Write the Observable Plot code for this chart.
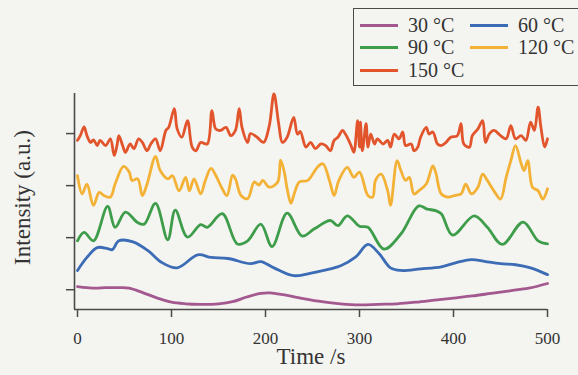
<!DOCTYPE html>
<html>
<head>
<meta charset="utf-8">
<script src="https://cdn.jsdelivr.net/npm/d3@7"></script>
<script src="https://cdn.jsdelivr.net/npm/@observablehq/plot@0.6"></script>
<style>
  html, body { margin: 0; padding: 0; background: #f4f4f0; }
  #wrap { position: relative; width: 578px; height: 375px; overflow: hidden; font-family: "Liberation Serif", "DejaVu Serif", serif; color: #333; }
  #legend { position: absolute; left: 353px; top: 8px; width: 232px; height: 78px; border: 1.6px solid #4a4a4a; box-sizing: border-box;
            display: grid; grid-template-columns: 110px auto; grid-auto-rows: 22.5px; padding: 5px 0 0 6px; font-size: 20px; }
  .item { display: flex; align-items: center; white-space: nowrap; }
  .sw { width: 38px; height: 3px; margin-right: 10px; }
</style>
</head>
<body>
<div id="wrap"><div id="legend"></div></div>
<script>
// Series labels and colours
const labels = ["30 °C", "60 °C", "90 °C", "120 °C", "150 °C"];
const colors = ["#a3598f", "#3b6cb5", "#3e9d4a", "#f3b236", "#e2542c"];

// Axis ticks
const xTicks = [0, 100, 200, 300, 400, 500];
const yTicks = [1, 2, 3, 4];

// Intensity traces, [time (s), intensity (a.u., offset per temperature)]
const s30 = [[0,1.06],[10,1.04],[20,1.03],[30,1.04],[45,1.04],[55,1.03],[70,0.94],[85,0.84],[100,0.76],[115,0.73],[130,0.72],[150,0.73],[165,0.77],[180,0.86],[195,0.93],[205,0.94],[220,0.90],[240,0.83],[260,0.77],[280,0.73],[300,0.71],[320,0.72],[340,0.73],[360,0.76],[380,0.80],[400,0.84],[420,0.88],[440,0.93],[460,0.98],[480,1.03],[500,1.12]];

const s60 = [[0,1.37],[10,1.62],[21,1.81],[32,1.79],[37,1.77],[44,1.94],[59,1.92],[75,1.75],[90,1.52],[106,1.42],[128,1.67],[142,1.62],[160,1.60],[184,1.50],[195,1.54],[209,1.42],[230,1.27],[251,1.33],[280,1.46],[296,1.63],[309,1.87],[321,1.69],[333,1.42],[344,1.37],[365,1.40],[387,1.44],[403,1.52],[419,1.58],[434,1.54],[450,1.50],[466,1.48],[482,1.42],[500,1.29]];

const s90 = [[0,1.94],[7,2.10],[17,1.94],[32,2.60],[40,2.20],[51,2.49],[64,2.29],[71,2.26],[83,2.66],[96,1.96],[104,2.53],[117,2.01],[131,2.25],[138,2.20],[154,2.46],[170,1.88],[181,1.94],[195,2.26],[207,1.83],[223,2.47],[239,2.03],[252,2.17],[269,2.33],[277,2.23],[287,2.42],[300,2.22],[309,2.20],[326,1.78],[344,2.07],[363,2.61],[372,2.55],[381,2.52],[387,2.46],[399,2.05],[422,2.42],[436,2.20],[452,1.87],[474,2.30],[490,1.94],[500,1.88]];

const s120 = [[0,3.19],[5,2.84],[10,3.03],[17,2.62],[23,2.87],[28,2.81],[35,2.78],[40,3.03],[49,3.37],[55,3.26],[58,3.10],[64,3.13],[69,2.81],[74,3.03],[83,3.56],[88,3.29],[96,3.13],[101,3.19],[108,2.90],[115,3.16],[119,2.90],[124,3.13],[131,2.84],[136,3.10],[142,3.33],[147,3.20],[154,2.94],[159,2.81],[165,3.20],[168,3.13],[174,2.81],[181,2.75],[188,3.07],[193,3.01],[197,3.10],[204,2.97],[213,3.07],[216,3.49],[220,3.26],[223,2.94],[227,2.66],[230,2.81],[236,3.07],[245,3.10],[255,3.35],[261,3.42],[268,3.10],[273,2.81],[278,3.10],[287,3.35],[294,3.16],[300,3.26],[309,2.81],[314,2.78],[317,3.10],[323,3.22],[330,2.90],[333,2.62],[340,3.48],[344,3.29],[349,3.10],[353,3.16],[358,2.84],[363,2.90],[371,3.03],[378,3.38],[381,3.26],[387,2.84],[394,2.78],[401,2.81],[408,2.84],[413,3.03],[419,2.84],[426,2.97],[431,3.22],[436,3.10],[443,2.90],[450,2.74],[456,3.16],[461,3.48],[466,3.77],[472,3.42],[475,3.29],[479,3.48],[484,2.97],[490,2.90],[495,2.74],[500,2.94]];

const s150 = [[0,3.87],[3,3.96],[7,4.13],[10,3.96],[14,3.83],[17,3.88],[21,3.77],[24,3.87],[30,3.77],[35,3.90],[39,3.58],[42,3.77],[44,3.96],[48,3.77],[51,3.64],[56,3.80],[60,3.71],[65,3.90],[69,3.83],[74,3.67],[78,3.80],[83,3.90],[88,3.67],[94,4.06],[97,4.12],[103,4.48],[106,4.09],[111,3.93],[117,4.25],[122,3.74],[126,3.67],[131,3.83],[138,3.80],[143,4.44],[147,4.09],[152,4.06],[158,4.12],[163,3.96],[168,4.06],[172,4.48],[175,4.12],[181,3.83],[184,4.00],[191,3.93],[198,3.83],[204,4.15],[209,4.76],[214,4.19],[218,3.83],[223,3.93],[230,4.31],[234,3.99],[237,4.04],[243,3.74],[248,3.83],[253,3.71],[259,3.80],[264,3.77],[269,3.67],[273,3.87],[277,3.93],[282,4.06],[285,3.99],[291,3.77],[294,3.64],[298,4.25],[300,3.74],[301,4.22],[303,3.67],[307,4.19],[309,3.74],[312,3.99],[316,3.80],[319,3.90],[325,3.80],[330,3.87],[333,3.74],[337,3.99],[342,3.90],[346,4.03],[349,3.77],[355,3.80],[358,3.67],[362,3.74],[365,3.93],[371,4.12],[374,3.99],[378,4.03],[383,3.80],[387,3.77],[392,3.83],[397,3.93],[404,3.96],[408,4.19],[411,3.80],[417,3.74],[420,3.96],[426,4.09],[431,4.25],[434,3.83],[438,3.99],[443,4.06],[450,3.96],[456,3.90],[461,4.15],[466,3.90],[472,3.96],[477,3.87],[482,4.22],[486,4.06],[490,4.51],[493,4.12],[497,3.74],[500,3.90]];

const series = [s30, s60, s90, s120, s150];

const xDomain = [-3.2, 500];
const yDomain = [0.62, 4.77];
const axisColor = "#4a4a4a";

const chart = Plot.plot({
  width: 578,
  height: 375,
  marginLeft: 74,
  marginRight: 31,
  marginTop: 93,
  marginBottom: 66,
  style: {background: "transparent", fontFamily: "'Liberation Serif', serif", color: "#333", overflow: "visible"},
  x: {domain: xDomain},
  y: {domain: yDomain},
  marks: [
    Plot.axisX({ticks: xTicks, tickSize: 8, tickPadding: 14, fontSize: 17, label: null, stroke: axisColor, strokeWidth: 1.5}),
    Plot.axisY({ticks: yTicks, tickSize: 8, tickFormat: () => "", label: null, stroke: axisColor, strokeWidth: 1.5}),
    Plot.ruleX([xDomain[0]], {stroke: axisColor, strokeWidth: 1.6}),
    Plot.ruleY([yDomain[0]], {stroke: axisColor, strokeWidth: 1.6}),
    ...series.map((s, i) => Plot.line(s, {
      x: d => d[0], y: d => d[1], stroke: colors[i], strokeWidth: 2.8,
      curve: "catmull-rom", strokeLinejoin: "round"
    })),
    Plot.text(["Time /s"], {frameAnchor: "bottom", dy: 47, fontSize: 23, fill: "#333", lineAnchor: "middle"}),
    Plot.text(["Intensity (a.u.)"], {frameAnchor: "left", dx: -52, dy: -4, rotate: -90, textAnchor: "middle", lineAnchor: "middle", fontSize: 23, fill: "#333"})
  ]
});
document.getElementById("wrap").prepend(chart);

// Legend
const legend = document.getElementById("legend");
labels.forEach((lab, i) => {
  const item = document.createElement("div");
  item.className = "item";
  const sw = document.createElement("span");
  sw.className = "sw";
  sw.style.background = colors[i];
  const tx = document.createElement("span");
  tx.textContent = lab;
  item.append(sw, tx);
  legend.append(item);
});
</script>
</body>
</html>
